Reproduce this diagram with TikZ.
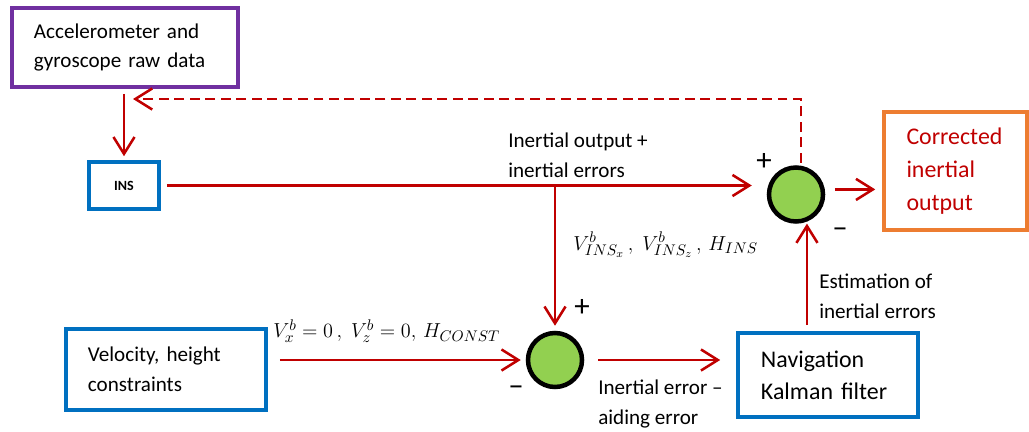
\documentclass[tikz,border=0pt]{standalone}
\usepackage{fontspec}
\setmainfont{Carlito}
\usetikzlibrary{arrows.meta}
\definecolor{arrR}{RGB}{192,0,0}
\definecolor{boxP}{RGB}{112,48,160}
\definecolor{boxB}{RGB}{0,112,192}
\definecolor{boxO}{RGB}{237,125,49}
\definecolor{sumG}{RGB}{146,208,80}

\begin{document}
\begin{tikzpicture}[x=0.025cm, y=-0.025cm, >={Straight Barb[length=12pt,width=15pt]},
  box/.style={draw, line width=2.5pt, inner sep=0pt, align=left, font=\fontsize{15}{21.3}\selectfont},
  sum/.style={circle, draw=black, fill=sumG, line width=3.2pt, minimum size=1.35cm, inner sep=0pt},
  arr/.style={->, draw=arrR, line width=1.8pt},
  lbl/.style={anchor=west, align=left, inner sep=0pt, font=\fontsize{15}{21.3}\selectfont},
  mlbl/.style={anchor=west, inner sep=0pt, font=\fontsize{15.5}{20}\selectfont},
  sgn/.style={inner sep=0pt, font=\fontsize{22}{22}\selectfont}]
\useasboundingbox (0,0) rectangle (1029,432);
% blocks
\node[box, draw=boxP, minimum width=5.65cm, minimum height=1.975cm, text width=4.55cm] (acc) at (125,47.5) {Accelerometer and\\gyroscope raw data};
\node[box, draw=boxB, minimum width=1.75cm, minimum height=1.175cm, align=center, font=\bfseries\fontsize{10}{12}\selectfont] (ins) at (124,185.5) {INS};
\node[box, draw=boxB, minimum width=5cm, minimum height=2.025cm, text width=3.9cm] (vel) at (166,369.5) {Velocity, height\\constraints};
\node[box, draw=boxB, minimum width=4.5cm, minimum height=2.1cm, text width=3.35cm, font=\fontsize{17}{22.7}\selectfont] (kf) at (828,375) {Navigation\\Kalman filter};
\node[box, draw=boxO, text=arrR, minimum width=3.575cm, minimum height=2.95cm, text width=2.45cm, font=\fontsize{17}{23.4}\selectfont] (cor) at (955.5,171) {Corrected\\inertial\\output};
% summing points
\node[sum] (sumT) at (796,194.5) {};
\node[sum] (sumB) at (555,360) {};
\node[sgn] (pT) at (764,162) {+};
\node[sgn] (mT) at (840,233) {–};
\node[sgn] (pB) at (582,308) {+};
\node[sgn] (mB) at (516,391) {–};
% signals
\draw[arr, shorten <=0.125cm, shorten >=0.1cm] (ins.north |- acc.south) -- (ins.north);
\draw[arr, shorten <=0.15cm, shorten >=0.375cm] (ins.east) -- (ins.east -| sumT.west);
\draw[arr, shorten >=0.125cm] (ins.east -| sumB.north) -- (sumB.north);
\draw[arr, shorten <=0.3cm, shorten >=0.125cm] (vel.east |- sumB.west) -- (sumB.west);
\draw[arr, shorten <=0.35cm, shorten >=0.4cm] (sumB.east) -- (sumB.east -| kf.west);
\draw[arr, shorten <=0.15cm, shorten >=0.05cm] (kf.north -| sumT.-68) -- (sumT.-68);
\draw[arr, shorten <=0.25cm, shorten >=0.175cm] (sumT.10) -- (sumT.10 -| cor.west);
% feedback
\coordinate (fb) at (133,99);
\draw[arr, dash pattern=on 7pt off 4pt, shorten <=0.075cm] (sumT.80) |- (fb);
% labels
\node[lbl] (lOut) at (508,155) {Inertial output +\\inertial errors};
\node[mlbl] (lIns) at (573,245) {$V^{b}_{INS_x}\,,\; V^{b}_{INS_z}\,,\, H_{INS}$};
\node[mlbl] (lCon) at (273,331) {$V_x^{b}=0\,,\; V_z^{b}=0,\, H_{CONST}$};
\node[lbl] (lErr) at (598,404) {Inertial error –\\aiding error};
\node[lbl] (lEst) at (819,296) {Estimation of\\inertial errors};
\end{tikzpicture}
\end{document}
